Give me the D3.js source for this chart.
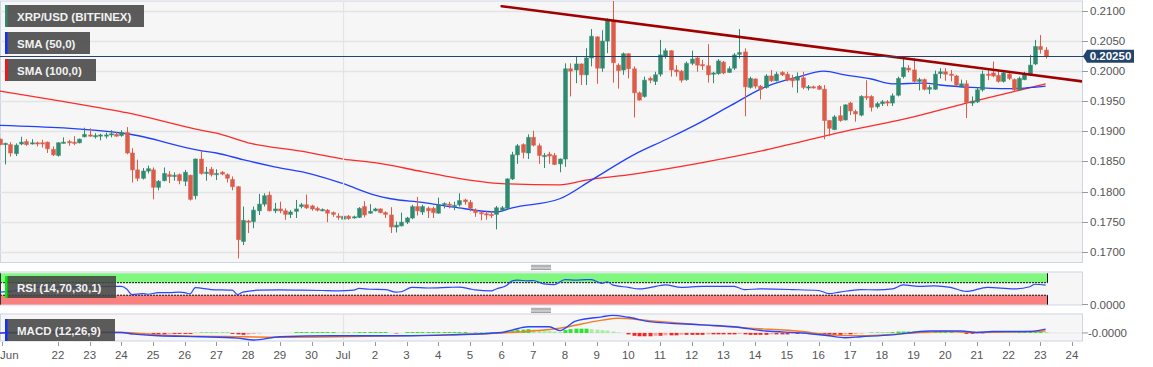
<!DOCTYPE html>
<html><head><meta charset="utf-8">
<script src="https://cdn.jsdelivr.net/npm/d3@7"></script>
<style>
html,body{margin:0;padding:0;background:#fff;}
svg{display:block;font-family:"Liberation Sans",Arial,sans-serif;}
</style></head><body>
<svg id="c" width="1153" height="367"></svg>
<script>
// ---------------- DATA ----------------
const symbolLabel = "XRP/USD (BITFINEX)";
const firstCandle = new Date(2020, 5, 20, 4, 0);   // 4-hour candles
const candleHours = 4;
const open = [
.1887,.1878,.1878,.1863,.1879,.1883,.1880,.1881,.1881,.1882,.1870,.1860,.1881,.1883,.1882,.1881,.1891,.1894,.1892,.1893,
.1892,.1894,.1895,.1893,.1898,.1864,.1836,.1822,.1834,.1836,.1807,.1818,.1828,.1825,.1828,.1817,.1827,.1793,.1854,.1830,
.1837,.1829,.1832,.1828,.1820,.1808,.1717,.1751,.1750,.1768,.1779,.1794,.1768,.1771,.1768,.1762,.1767,.1775,.1778,.1776,
.1772,.1769,.1769,.1765,.1759,.1754,.1759,.1756,.1757,.1775,.1764,.1768,.1771,.1765,.1761,.1741,.1743,.1749,.1756,.1775,
.1766,.1772,.1772,.1764,.1778,.1779,.1777,.1778,.1786,.1782,.1769,.1765,.1763,.1762,.1762,.1769,.1772,.1821,.1861,.1878,
.1864,.1890,.1876,.1858,.1862,.1860,.1846,.1854,.2004,.2002,.2012,.1994,.2022,.2057,.2005,.2050,.2084,.2010,.2002,.2029,
.2004,.1964,.1958,.1988,.1983,.1995,.2025,.2034,.2002,.2000,.1986,.2013,.2022,.2011,.2009,.1995,.1996,.2015,.1998,.2005,
.2028,.2032,.1973,.1987,.1975,.1973,.1992,.1984,.1998,.1995,.1988,.1985,.1989,.1972,.1974,.1975,.1970,.1918,.1903,.1926,
.1919,.1947,.1933,.1927,.1958,.1958,.1941,.1946,.1949,.1947,.1960,.1991,.2005,.2002,.1983,.1986,.1970,.1970,.1996,.1999,
.1995,.1992,.1975,.1979,.1947,.1949,.1969,.1995,.1997,.1993,.1983,.1995,.1986,.1969,.1986,.1994,.2012,.2041,.2035];
const high = [
.1888,.1881,.1882,.1880,.1891,.1887,.1887,.1883,.1886,.1883,.1875,.1882,.1890,.1886,.1892,.1888,.1906,.1905,.1897,.1896,
.1898,.1902,.1899,.1902,.1907,.1872,.1853,.1839,.1843,.1840,.1819,.1840,.1834,.1832,.1830,.1836,.1828,.1855,.1868,.1841,
.1841,.1837,.1834,.1830,.1825,.1809,.1775,.1753,.1775,.1796,.1797,.1800,.1781,.1783,.1772,.1769,.1786,.1781,.1795,.1778,
.1775,.1772,.1771,.1767,.1764,.1764,.1761,.1760,.1774,.1784,.1779,.1773,.1772,.1767,.1774,.1750,.1765,.1758,.1778,.1791,
.1778,.1775,.1775,.1790,.1782,.1783,.1783,.1797,.1788,.1786,.1772,.1768,.1767,.1767,.1776,.1776,.1822,.1866,.1879,.1880,
.1895,.1901,.1880,.1864,.1866,.1864,.1855,.2013,.2013,.2024,.2013,.2038,.2070,.2058,.2068,.2088,.2118,.2013,.2031,.2030,
.2008,.1966,.1991,.1991,.1999,.2052,.2038,.2035,.2010,.2002,.2016,.2034,.2024,.2019,.2045,.1999,.2020,.2017,.2008,.2030,
.2070,.2038,.1991,.1988,.1977,.1995,.2002,.1999,.2000,.1999,.1994,.1998,.1999,.1977,.1976,.1977,.1977,.1919,.1927,.1942,
.1945,.1949,.1936,.1960,.1985,.1960,.1949,.1952,.1952,.1963,.1991,.2021,.2010,.2021,.1989,.1988,.1977,.2001,.2005,.2005,
.2002,.1994,.1986,.1985,.1958,.1973,.2001,.2003,.2016,.2001,.2001,.1999,.1988,.1991,.1999,.2027,.2052,.2060,.2040];
const low = [
.1877,.1845,.1858,.1859,.1877,.1876,.1878,.1875,.1873,.1864,.1859,.1858,.1880,.1876,.1877,.1880,.1890,.1891,.1888,.1885,
.1888,.1890,.1891,.1891,.1862,.1815,.1817,.1820,.1830,.1787,.1802,.1817,.1814,.1818,.1812,.1809,.1785,.1787,.1828,.1818,
.1825,.1819,.1827,.1815,.1802,.1689,.1711,.1731,.1739,.1761,.1775,.1767,.1764,.1764,.1753,.1756,.1756,.1772,.1771,.1768,
.1767,.1767,.1749,.1758,.1753,.1741,.1753,.1755,.1756,.1757,.1763,.1767,.1764,.1756,.1731,.1732,.1742,.1746,.1754,.1760,
.1761,.1756,.1756,.1763,.1772,.1772,.1769,.1775,.1778,.1767,.1758,.1752,.1753,.1756,.1737,.1767,.1770,.1819,.1846,.1855,
.1854,.1875,.1846,.1839,.1846,.1844,.1832,.1841,.1958,.1980,.1977,.1977,.2008,.1979,.1999,.2030,.1981,.1971,.1994,.1988,
.1923,.1951,.1956,.1980,.1977,.1991,.2021,.1991,.1991,.1981,.1984,.2010,.1999,.2002,.1981,.1980,.1994,.1995,.1997,.2002,
.2021,.1925,.1971,.1971,.1953,.1971,.1982,.1983,.1992,.1983,.1973,.1964,.1970,.1968,.1971,.1969,.1887,.1892,.1902,.1916,
.1918,.1927,.1916,.1925,.1952,.1933,.1938,.1942,.1942,.1942,.1958,.1988,.1998,.1981,.1968,.1968,.1962,.1969,.1988,.1984,
.1983,.1975,.1973,.1922,.1942,.1947,.1966,.1985,.1990,.1981,.1981,.1985,.1966,.1968,.1985,.1992,.2010,.2029,.2021];
const close = [
.1878,.1880,.1864,.1877,.1882,.1878,.1881,.1880,.1880,.1871,.1861,.1881,.1882,.1881,.1880,.1887,.1895,.1892,.1893,.1894,
.1894,.1896,.1892,.1898,.1864,.1836,.1822,.1834,.1838,.1807,.1817,.1830,.1825,.1827,.1818,.1832,.1787,.1854,.1830,.1832,
.1828,.1830,.1829,.1822,.1808,.1720,.1752,.1749,.1769,.1779,.1793,.1768,.1771,.1768,.1762,.1766,.1771,.1778,.1773,.1771,
.1769,.1770,.1764,.1762,.1757,.1759,.1755,.1758,.1772,.1761,.1767,.1771,.1765,.1762,.1741,.1744,.1749,.1756,.1775,.1768,
.1775,.1768,.1765,.1778,.1780,.1777,.1777,.1785,.1783,.1772,.1765,.1763,.1761,.1760,.1773,.1773,.1821,.1861,.1876,.1865,
.1890,.1877,.1860,.1860,.1859,.1845,.1854,.2004,.2000,.2012,.1994,.2022,.2058,.2005,.2050,.2084,.2014,.2001,.2029,.2004,
.1964,.1952,.1985,.1985,.1994,.2027,.2034,.2002,.1999,.1985,.2013,.2020,.2010,.2009,.1994,.1997,.2017,.1997,.2004,.2027,
.2031,.1974,.1988,.1975,.1970,.1992,.1984,.1995,.1994,.1985,.1984,.1991,.1973,.1974,.1973,.1970,.1918,.1905,.1924,.1918,
.1944,.1934,.1929,.1958,.1956,.1940,.1946,.1949,.1947,.1959,.1988,.2006,.2002,.1983,.1986,.1970,.1973,.1995,.1999,.1995,
.1993,.1977,.1979,.1948,.1950,.1969,.1995,.1993,.1992,.1983,.1997,.1988,.1969,.1988,.1995,.2010,.2041,.2036,.2025];

// SMA readings (candle index, value)
const sma50Idx = [0,24,38,41,46,52,59,65,71,74,80,86,94,97,106,112,120,126,132,138,145,151,156,160,165,169,175,178,184,191,194,198];
const sma50Val = [.1910,.1896,.1868,.1864,.1853,.1841,.1829,.1813,.1794,.1788,.1782,.1774,.1766,.1773,.1788,.1819,.1861,.1886,.1912,.1941,.1974,.1990,.2000,.1994,.1987,.1979,.1980,.1977,.1973,.1971,.1972,.1975];
const sma100Idx = [0,19,24,38,41,47,57,65,71,80,86,95,106,111,120,133,145,160,172,183,191,198];
const sma100Val = [.1967,.1939,.1931,.1902,.1897,.1881,.1867,.1854,.1848,.1833,.1823,.1813,.1811,.1819,.1829,.1848,.1869,.1900,.1922,.1947,.1964,.1979];

// Trend line (two anchor points) and current price
const trendTimes = [new Date(2020, 6, 6, 0, 0), new Date(2020, 6, 24, 8, 0)];
const trendPrices = [0.2108, 0.1983];
const lastPrice = 0.2025;
const lastPriceLabel = "0.20250";

// RSI readings (candle index, value)
const rsiIdx = [0,2,6,11,17,22,23,24,25,27,28,30,32,34,35,36,37,40,44,45,46,49,53,57,61,64,67,68,70,73,75,76,78,81,85,87,89,90,93,94,96,97,98,100,101,103,105,107,109,111,112,114,115,116,119,121,123,126,129,133,139,141,144,150,155,157,159,163,166,169,171,174,177,180,183,187,192,195,196,198];
const rsiVal = [40,42,55,56,57,58,58,50,32,35,33,38,38,40,38,34,54,48,46,32,40,46,47,46,45,44,46,52,49,48,40,41,55,53,55,56,50,47,44,50,62,76,78,76,77,66,64,80,78,80,80,68,73,63,55,50,54,63,55,58,58,48,50,48,45,35,40,48,47,50,63,58,60,55,42,55,50,57,65,62];
const rsiBands = [30, 70];

// MACD readings (candle index, value)
const macdIdx = [0,8,23,25,30,38,45,48,53,63,76,85,95,97,100,104,106,109,114,116,119,123,133,139,145,152,157,160,163,169,176,182,185,188,195,198];
const macdVal = [0,.0002,.0001,-.0002,-.0006,-.0008,-.0011,-.0015,-.0008,-.0006,-.0006,-.0004,.0001,.0006,.0013,.0013,.0005,.0025,.0034,.0037,.0033,.0024,.0017,.0013,.0004,0,-.0006,-.0010,-.0008,-.0004,.0004,.0004,.0001,.0003,.0003,.0008];
const signalIdx = [0,23,30,45,53,76,95,106,114,117,123,133,142,152,157,163,172,179,185,198];
const signalVal = [0,.0001,-.0004,-.0008,-.0009,-.0006,0,.0010,.0027,.0031,.0026,.0017,.0010,.0003,-.0004,-.0006,-.0001,.0003,.0001,.0004];
const histogram = [
0,0,0,0,.0001,.0001,.0001,.0001,.0001,.00005,.00005,.00005,.00005,.00005,.00005,.00005,.0002,.0002,.0002,.0002,
.0002,.0002,.0002,.0002,-.0001,-.0003,-.0004,-.0004,-.0003,-.0003,-.0003,-.0003,-.0002,-.0002,-.0002,-.0002,-.0002,.0001,.0001,.0001,
.0001,.0001,.0001,.0001,-.0002,-.0003,-.0004,-.0003,-.0002,-.0001,0,0,0,0,0,0,.0002,.0002,.0002,.0002,
.0002,.0002,.0002,.0002,.0001,.0001,.0001,.0001,.0002,.0002,.0002,.0002,.0002,.0002,0,-.0001,0,.0002,.0002,.0002,
.0002,.0002,.0002,.0002,.0002,.0002,.0002,.0002,.0002,.0001,.0001,.0001,.0001,.0001,.0001,.0001,.0003,.0005,.0007,.0007,
.0008,.0007,.0006,.0005,.0004,.0003,.0002,.0006,.0008,.0009,.0009,.0009,.0008,.0007,.0006,.0005,.0003,.0001,0,-.0003,
-.0006,-.0007,-.0007,-.0007,-.0006,-.0006,-.0005,-.0005,-.0005,-.0004,-.0004,-.0004,-.0004,-.0004,-.0003,-.0003,-.0003,-.0003,-.0003,-.0003,
-.0002,-.0003,-.0004,-.0004,-.0004,-.0004,-.0003,-.0003,-.0003,-.0003,-.0002,-.0002,-.0001,-.0001,0,-.0003,-.0004,-.0004,-.0004,-.0004,
-.0003,-.0003,-.0002,-.0001,0,.0001,.0001,.0001,.0001,.0002,.0003,.0003,.0003,.0003,.0003,.0003,.0002,.0002,.0002,.0002,
.0002,.0001,.0001,-.0002,-.0002,-.0001,-.0001,.0001,.0001,.0001,.0001,.0001,.0001,.0002,.0002,.0002,.0003,.0003,.0002];

// Axis labels
const priceTicks = [0.1700,0.1750,0.1800,0.1850,0.1900,0.1950,0.2000,0.2050,0.2100];
const axisStart = new Date(2020, 5, 22);
const dayLabels = ["22","23","24","25","26","27","28","29","30","Jul","2","3","4","5","6","7","8","9","10","11","12","13","14","15","16","17","18","19","20","21","22","23","24"];
const firstMonthLabel = "Jun";
const monthStart = new Date(2020, 6, 1);
const rsiAxisLabel = "0.0000";
const macdAxisLabel = "-0.0000";
const legendItems = [
  {text: symbolLabel, color: "#2e8b6e"},
  {text: "SMA (50,0)", color: "#1030ff"},
  {text: "SMA (100,0)", color: "#ff1010"}
];
const rsiLegend = "RSI (14,70,30,1)";
const macdLegend = "MACD (12,26,9)";

// ---------------- LAYOUT ----------------
const W = 1153, H = 367;
const plotR = 1082;
const main = {top: 1, bottom: 262.5};
const rsiP = {top: 272, bottom: 305};
const macdP = {top: 314, bottom: 341};
const UP = "#2f8a6f", DOWN = "#dc5c49";
const BORDER = "#cdd4e4", GRID = "#e4e4e4", PANEL = "#f6f6f6";

const svg = d3.select("#c");
const tOf = i => new Date(firstCandle.getTime() + i * candleHours * 3600e3);
const x = d3.scaleTime().domain([axisStart, d3.timeDay.offset(axisStart, 32)]).range([58, 1072]);
const y = d3.scaleLinear().domain([0.17, 0.21]).range([251.7, 11]);
const yRsi = d3.scaleLinear().domain([0, 100]).range([304.6, 273.3]);
const yMacd = d3.scaleLinear().domain([-0.0017, 0.0040]).range([341, 314]);
const cx = i => Math.round(x(tOf(i))) + 0.5;

const defs = svg.append("defs");
function clip(id, p) {
  defs.append("clipPath").attr("id", id).append("rect")
    .attr("x", 0).attr("y", p.top).attr("width", plotR).attr("height", p.bottom - p.top);
}
clip("cm", main); clip("cr", rsiP); clip("cmacd", macdP);

// panel backgrounds
[main, rsiP, macdP].forEach(p => {
  svg.append("rect").attr("x", 0.5).attr("y", p.top).attr("width", plotR).attr("height", p.bottom - p.top)
    .attr("fill", PANEL).attr("stroke", BORDER).attr("stroke-width", 1);
});

// gridlines
const gm = svg.append("g").attr("clip-path", "url(#cm)");
gm.selectAll("line.h").data(priceTicks).join("line")
  .attr("x1", 0).attr("x2", plotR).attr("y1", d => Math.round(y(d)) + 0.5).attr("y2", d => Math.round(y(d)) + 0.5)
  .attr("stroke", GRID).attr("stroke-width", 1.6);
[main, rsiP, macdP].forEach(p => {
  svg.append("line").attr("x1", Math.round(x(monthStart)) + 0.5).attr("x2", Math.round(x(monthStart)) + 0.5)
    .attr("y1", p.top + 1).attr("y2", p.bottom - 0.5).attr("stroke", GRID).attr("stroke-width", 1.2);
});

// SMA lines
const lineMain = d3.line().x(d => x(tOf(d[0]))).y(d => y(d[1])).curve(d3.curveMonotoneX);
gm.append("path").attr("d", lineMain(sma100Idx.map((d, k) => [d, sma100Val[k]])))
  .attr("fill", "none").attr("stroke", "#ff2a2a").attr("stroke-width", 1.3);
gm.append("path").attr("d", lineMain(sma50Idx.map((d, k) => [d, sma50Val[k]])))
  .attr("fill", "none").attr("stroke", "#2040ff").attr("stroke-width", 1.3);

// candles
const candles = open.map((o, i) => ({i, o, h: high[i], l: low[i], c: close[i]}));
gm.selectAll("line.wick").data(candles).join("line")
  .attr("x1", d => cx(d.i)).attr("x2", d => cx(d.i))
  .attr("y1", d => y(d.h)).attr("y2", d => y(d.l))
  .attr("stroke", d => d.c >= d.o ? UP : DOWN).attr("stroke-width", 1);
gm.selectAll("rect.body").data(candles).join("rect")
  .attr("x", d => cx(d.i) - 2)
  .attr("y", d => Math.min(y(d.o), y(d.c)))
  .attr("width", 4)
  .attr("height", d => Math.max(1.2, Math.abs(y(d.o) - y(d.c))))
  .attr("fill", d => d.c >= d.o ? UP : DOWN)
  .attr("stroke", d => d.c >= d.o ? UP : DOWN).attr("stroke-opacity", 0.45).attr("stroke-width", 1);

// trend line
gm.append("line")
  .attr("x1", x(trendTimes[0])).attr("y1", y(trendPrices[0]))
  .attr("x2", x(trendTimes[1])).attr("y2", y(trendPrices[1]))
  .attr("stroke", "#a00000").attr("stroke-width", 2.6).attr("stroke-linecap", "round");

// current price line
svg.append("line").attr("x1", 0).attr("x2", 1086)
  .attr("y1", Math.round(y(lastPrice)) + 0.5).attr("y2", Math.round(y(lastPrice)) + 0.5)
  .attr("stroke", "#24446b").attr("stroke-width", 1.2);

// right price axis
const ax = svg.append("g");
ax.selectAll("line").data(priceTicks).join("line")
  .attr("x1", plotR).attr("x2", plotR + 6).attr("y1", d => Math.round(y(d)) + 0.5).attr("y2", d => Math.round(y(d)) + 0.5)
  .attr("stroke", "#999");
ax.selectAll("text").data(priceTicks).join("text")
  .attr("x", 1090).attr("y", d => y(d) + 4).attr("font-size", 11.5).attr("fill", "#555")
  .text(d => d.toFixed(4));

// price label
const py = y(lastPrice);
svg.append("path").attr("d", `M1083,${py} L1087,${py - 6.5} L1134,${py - 6.5} L1134,${py + 6.5} L1087,${py + 6.5} Z`)
  .attr("fill", "#24446b");
svg.append("text").attr("x", 1110.5).attr("y", py + 4).attr("text-anchor", "middle")
  .attr("font-size", 11.5).attr("font-weight", "bold").attr("fill", "#fff").text(lastPriceLabel);

// legend boxes
function legend(yTop, w, text, color) {
  const g = svg.append("g");
  g.append("rect").attr("x", 5).attr("y", yTop).attr("width", w).attr("height", 22).attr("fill", "#454545").attr("opacity", 0.88);
  g.append("rect").attr("x", 5).attr("y", yTop).attr("width", 2.5).attr("height", 22).attr("fill", color);
  g.append("text").attr("x", 17).attr("y", yTop + 15.5).attr("font-size", 11.5).attr("font-weight", "bold")
    .attr("fill", "#f2f2f2").text(text);
}
const legendTops = [5, 32, 59], legendWidths = [139, 85, 91];
legendItems.forEach((d, k) => legend(legendTops[k], legendWidths[k], d.text, d.color));

// panel grips
function grip(yc) {
  [0, 1.4, 2.8, 4.2].forEach(o => svg.append("line").attr("x1", 531).attr("x2", 551)
    .attr("y1", yc + o).attr("y2", yc + o).attr("stroke", "#888").attr("stroke-width", 0.8));
}
grip(265.3); grip(308.3);

// ---------------- RSI ----------------
const lastX = cx(open.length - 1) + 1;
const gr = svg.append("g").attr("clip-path", "url(#cr)");
gr.append("rect").attr("x", 0).attr("y", yRsi(100)).attr("width", lastX).attr("height", yRsi(rsiBands[1]) - yRsi(100)).attr("fill", "#80f880");
gr.append("rect").attr("x", 0).attr("y", yRsi(rsiBands[0])).attr("width", lastX).attr("height", yRsi(0) - yRsi(rsiBands[0])).attr("fill", "#fa8080");
rsiBands.forEach(b => gr.append("line").attr("x1", 0).attr("x2", lastX).attr("y1", yRsi(b)).attr("y2", yRsi(b))
  .attr("stroke", "#111").attr("stroke-dasharray", "2,1").attr("stroke-width", 1));
gr.append("line").attr("x1", lastX).attr("x2", lastX).attr("y1", yRsi(100)).attr("y2", yRsi(rsiBands[1])).attr("stroke", "#111");
gr.append("line").attr("x1", lastX).attr("x2", lastX).attr("y1", yRsi(rsiBands[0])).attr("y2", yRsi(0)).attr("stroke", "#111");
gr.append("line").attr("x1", 0.5).attr("x2", 0.5).attr("y1", yRsi(100)).attr("y2", yRsi(0)).attr("stroke", "#333");
gr.append("path").attr("d", d3.line().x(d => x(tOf(d[0]))).y(d => yRsi(d[1])).curve(d3.curveMonotoneX)(rsiIdx.map((d, k) => [d, rsiVal[k]])))
  .attr("fill", "none").attr("stroke", "#2a45ff").attr("stroke-width", 1.2);
svg.append("line").attr("x1", plotR).attr("x2", plotR + 6).attr("y1", 304.5).attr("y2", 304.5).attr("stroke", "#999");
svg.append("text").attr("x", 1090).attr("y", 308.5).attr("font-size", 11.5).attr("fill", "#555").text(rsiAxisLabel);

// ---------------- MACD ----------------
const gmc = svg.append("g").attr("clip-path", "url(#cmacd)");
gmc.append("line").attr("x1", 0).attr("x2", plotR).attr("y1", yMacd(0)).attr("y2", yMacd(0)).attr("stroke", "#e6e6e6");
gmc.selectAll("rect").data(histogram.map((v, i) => ({v, i}))).join("rect")
  .attr("x", d => cx(d.i) - 2).attr("width", 4)
  .attr("y", d => Math.min(yMacd(0), yMacd(d.v)))
  .attr("height", d => Math.abs(yMacd(d.v) - yMacd(0)))
  .attr("fill", d => d.v >= 0 ? "#18e018" : "#f01010")
  .attr("opacity", d => (d.i > 0 && Math.abs(d.v) < Math.abs(histogram[d.i - 1])) ? 0.35 : 0.9);
const lineMacd = d3.line().x(d => x(tOf(d[0]))).y(d => yMacd(d[1])).curve(d3.curveMonotoneX);
gmc.append("path").attr("d", lineMacd(signalIdx.map((d, k) => [d, signalVal[k]])))
  .attr("fill", "none").attr("stroke", "#f57c20").attr("stroke-width", 1.4);
gmc.append("path").attr("d", lineMacd(macdIdx.map((d, k) => [d, macdVal[k]])))
  .attr("fill", "none").attr("stroke", "#2a45ff").attr("stroke-width", 1.4);
svg.append("line").attr("x1", plotR).attr("x2", plotR + 6).attr("y1", yMacd(0)).attr("y2", yMacd(0)).attr("stroke", "#999");
svg.append("text").attr("x", 1088).attr("y", yMacd(0) + 4).attr("font-size", 11.5).attr("fill", "#555").text(macdAxisLabel);

// legends of sub panels
legend(276, 111, rsiLegend, "#00ee00");
legend(319, 110, macdLegend, "#1030ff");

// ---------------- X AXIS ----------------
const dayDates = dayLabels.map((d, k) => d3.timeDay.offset(axisStart, k));
const xa = svg.append("g");
xa.selectAll("line").data(dayDates).join("line")
  .attr("x1", d => Math.round(x(d)) + 0.5).attr("x2", d => Math.round(x(d)) + 0.5)
  .attr("y1", 342).attr("y2", 346).attr("stroke", "#999");
xa.selectAll("text").data(dayDates).join("text")
  .attr("x", d => x(d)).attr("y", 358.5).attr("text-anchor", "middle")
  .attr("font-size", 11.5).attr("fill", "#555").text((d, k) => dayLabels[k]);
xa.append("line").attr("x1", 2.5).attr("x2", 2.5).attr("y1", 342).attr("y2", 346).attr("stroke", "#999");
xa.append("text").attr("x", 0).attr("y", 358.5).attr("font-size", 11.5).attr("fill", "#555").text(firstMonthLabel);
</script>
</body></html>
